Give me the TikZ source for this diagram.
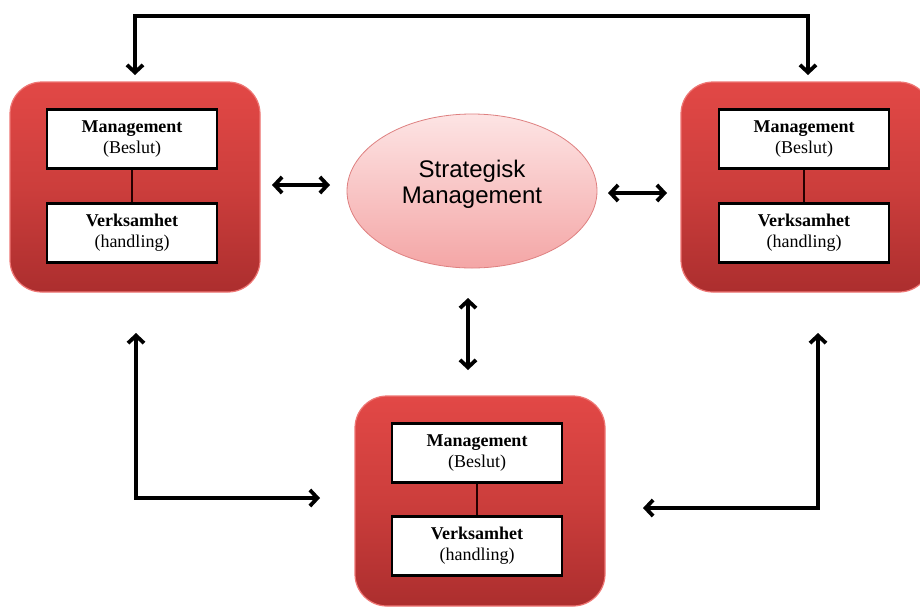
\documentclass[tikz,border=0pt]{standalone}
\usepackage{fontspec}
\setmainfont{Liberation Serif}
\newfontfamily\arialf{Liberation Sans}
\usetikzlibrary{arrows.meta,shapes.geometric}
\definecolor{redtop}{RGB}{226,72,70}
\definecolor{redbot}{RGB}{172,46,46}
\definecolor{redmid}{RGB}{204,62,60}
\definecolor{rededge}{RGB}{238,118,116}
\definecolor{pinktop}{RGB}{253,228,228}
\definecolor{pinkbot}{RGB}{244,166,166}
\definecolor{pinkedge}{RGB}{222,128,128}
\tikzset{
  unitbox/.style={draw=rededge, line width=1.2pt, rounded corners=32pt,
    top color=redtop, bottom color=redbot, middle color=redmid,
    minimum width=250pt, minimum height=210pt},
  infobox/.style={draw=black, line width=2.6pt, fill=white,
    minimum width=170pt, minimum height=59pt, align=center,
    font=\fontsize{18}{21}\selectfont},
  strat/.style={ellipse, draw=pinkedge, line width=0.8pt,
    top color=pinktop, bottom color=pinkbot,
    minimum width=250pt, minimum height=154pt},
  strattext/.style={align=center, font=\arialf\fontsize{24}{26}\selectfont},
  link/.style={line width=1.2pt, draw=black!85!red},
  flow/.style={line width=3.8pt, draw=black,
    {Straight Barb[length=7.5pt,width=16pt]}-{Straight Barb[length=7.5pt,width=16pt]}}
}
\begin{document}
\begin{tikzpicture}[x=1pt,y=-1pt]
\useasboundingbox (0,0) rectangle (920,606);
\begin{scope}
\clip (0,0) rectangle (920,606);

% three organisational units
\node[unitbox] (lbox) at (135,187) {};
\node[unitbox] (rbox) at (806,187) {};
\node[unitbox] (bbox) at (480,501) {};

% inner management / operations boxes
\node[infobox] (lmg) at (132,139) {\textbf{Management}\\(Beslut)};
\node[infobox] (lvk) at (132,233) {\textbf{Verksamhet}\\(handling)};
\node[infobox] (rmg) at (804,139) {\textbf{Management}\\(Beslut)};
\node[infobox] (rvk) at (804,233) {\textbf{Verksamhet}\\(handling)};
\node[infobox] (bmg) at (477,453) {\textbf{Management}\\(Beslut)};
\node[infobox] (bvk) at (477,546) {\textbf{Verksamhet}\\(handling)};
\draw[link] (lmg.south) -- (lvk.north);
\draw[link] (rmg.south) -- (rvk.north);
\draw[link] (bmg.south) -- (bvk.north);
\end{scope}

% central strategy ellipse and its title
\node[strat] (sm) at (472,191) {};
\node[strattext] (smlabel) at (472,184) {Strategisk\\Management};

% arrow end points
\coordinate (tl) at (135,75);
\coordinate (tr) at (808,75);
\coordinate (ea) at (272,185);
\coordinate (eb) at (330,185);
\coordinate (ec) at (608,193);
\coordinate (ed) at (667,193);
\coordinate (va) at (468,298);
\coordinate (vb) at (468,370);
\coordinate (la) at (136,333);
\coordinate (lb) at (320,498);
\coordinate (ra) at (818,333);
\coordinate (rb) at (643,508);

% connectors
\draw[flow] (tl) -- (135,16) -- (808,16) -- (tr);
\draw[flow] (ea) -- (eb);
\draw[flow] (ec) -- (ed);
\draw[flow] (va) -- (vb);
\draw[flow] (la) |- (lb);
\draw[flow] (ra) |- (rb);
\end{tikzpicture}
\end{document}
